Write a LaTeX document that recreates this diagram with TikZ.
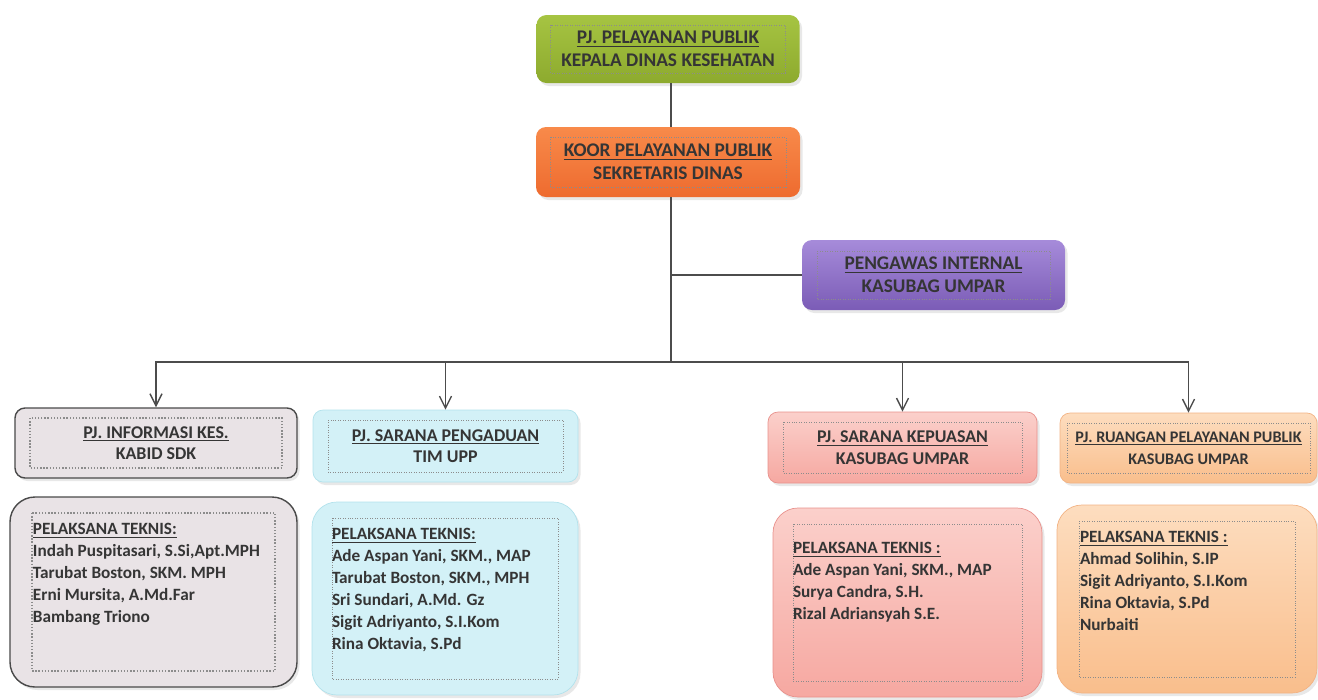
\documentclass[tikz,border=0pt]{standalone}
\usepackage{fontspec}
\setmainfont{Carlito}
\usetikzlibrary{arrows.meta,calc,positioning,shadows}

\definecolor{leaftop}{HTML}{A6C442}
\definecolor{leafbot}{HTML}{8DAA2E}
\definecolor{flametop}{HTML}{F88A4A}
\definecolor{flamebot}{HTML}{EE6B2F}
\definecolor{lilactop}{HTML}{A68BDA}
\definecolor{lilacbot}{HTML}{7B5CB6}
\definecolor{ashfill}{HTML}{E9E3E6}
\definecolor{ashline}{HTML}{4A4A4A}
\definecolor{skyfill}{HTML}{D3F1F7}
\definecolor{skyline}{HTML}{B2E2EC}
\definecolor{rosetop}{HTML}{FBD0CB}
\definecolor{rosebot}{HTML}{F6A8A1}
\definecolor{roseline}{HTML}{E8918C}
\definecolor{peachtop}{HTML}{FDDDBF}
\definecolor{peachbot}{HTML}{F9BE8C}
\definecolor{peachline}{HTML}{F2B384}
\definecolor{ink}{HTML}{353535}

\newcommand{\crewlist}[3]{\parbox[c][#2][t]{#1}{\raggedright #3}}

\tikzset{
  office/.style = {rounded corners=2mm, inner sep=0pt, align=center, text=ink,
                   font=\bfseries\fontsize{10.2}{12.2}\selectfont,
                   drop shadow={opacity=0.18, shadow xshift=0.5mm, shadow yshift=-0.6mm}},
  crew/.style   = {office, rounded corners=5mm, align=left,
                   font=\bfseries\fontsize{9.8}{12.5}\selectfont},
  dotbox/.style 2 args = {path picture={\draw[densely dotted, black!45, sharp corners]
                   ([shift={(#1,-#2)}]path picture bounding box.north west) rectangle
                   ([shift={(-#1,#2)}]path picture bounding box.south east);}},
  wire/.style   = {thick, black!70},
  link/.style   = {wire, -{Straight Barb[length=2.4mm, width=2.4mm]}},
}

\begin{document}
\begin{tikzpicture}[x=0.2mm,y=-0.2mm]
  \useasboundingbox (0,0) rectangle (1318,699);
  % top of the chart
  \node[office, dotbox={2.8mm}{2mm}, top color=leaftop, bottom color=leafbot,
        font=\bfseries\fontsize{11}{13}\selectfont,
        minimum width=52.6mm, minimum height=13.6mm] (pj) at (668,49)
        {\underline{PJ. PELAYANAN PUBLIK}\\KEPALA DINAS KESEHATAN};
  \node[office, dotbox={2.8mm}{2mm}, top color=flametop, bottom color=flamebot,
        font=\bfseries\fontsize{11}{13}\selectfont,
        minimum width=52.8mm, minimum height=14mm] (koor) at (668,162)
        {\underline{KOOR PELAYANAN PUBLIK}\\SEKRETARIS DINAS};
  \node[office, dotbox={3mm}{2.2mm}, top color=lilactop, bottom color=lilacbot,
        font=\bfseries\fontsize{11}{13}\selectfont,
        minimum width=52.6mm, minimum height=14mm] (awas) at (933.5,275)
        {\underline{PENGAWAS INTERNAL}\\KASUBAG UMPAR};
  \coordinate (spine) at (671,362);
  %
  % the four sections
  \node[office, dotbox={3mm}{2mm}, fill=ashfill, draw=ashline, thick,
        minimum width=56.4mm, minimum height=14mm] (info) at (156,443)
        {\underline{PJ. INFORMASI KES.}\\KABID SDK};
  \node[office, dotbox={3mm}{2mm}, fill=skyfill, draw=skyline,
        minimum width=53mm, minimum height=14.4mm] (aduan) at (445.5,446)
        {\underline{PJ. SARANA PENGADUAN}\\TIM UPP};
  \node[office, dotbox={3mm}{2mm}, top color=rosetop, bottom color=rosebot, draw=roseline,
        minimum width=53.8mm, minimum height=14.2mm] (puas) at (902.5,447.5)
        {\underline{PJ. SARANA KEPUASAN}\\KASUBAG UMPAR};
  \node[office, dotbox={1.4mm}{2mm}, top color=peachtop, bottom color=peachbot, draw=peachline,
        font=\bfseries\fontsize{9.2}{12.5}\selectfont,
        minimum width=51.4mm, minimum height=14mm] (ruang) at (1188.5,448)
        {\underline{PJ. RUANGAN PELAYANAN PUBLIK}\\KASUBAG UMPAR};
  %
  \node[crew, dotbox={4.4mm}{3.2mm}, fill=ashfill, draw=ashline, thick,
        minimum width=57.4mm, minimum height=38mm] (infox) at (153.5,592)
        {\crewlist{48.2mm}{27.6mm}{\underline{PELAKSANA TEKNIS:}\\
          Indah Puspitasari, S.Si,Apt.MPH\\ Tarubat Boston, SKM. MPH\\
          Erni Mursita, A.Md.Far\\ Bambang Triono}};
  \node[crew, dotbox={4mm}{3.2mm}, fill=skyfill, draw=skyline,
        minimum width=53.2mm, minimum height=38.6mm] (aduanx) at (445,598.5)
        {\crewlist{45.2mm}{28.2mm}{\underline{PELAKSANA TEKNIS:}\\
          Ade Aspan Yani, SKM., MAP\\ Tarubat Boston, SKM., MPH\\
          Sri Sundari, A.Md. Gz\\ Sigit Adriyanto, S.I.Kom\\ Rina Oktavia, S.Pd}};
  \node[crew, dotbox={4mm}{3.2mm}, top color=rosetop, bottom color=rosebot, draw=roseline,
        minimum width=53.8mm, minimum height=37.8mm] (puasx) at (907.5,602.5)
        {\crewlist{45.8mm}{24.2mm}{\underline{PELAKSANA TEKNIS :}\\
          Ade Aspan Yani, SKM., MAP\\ Surya Candra, S.H.\\ Rizal Adriansyah S.E.}};
  \node[crew, dotbox={4.4mm}{3.2mm}, top color=peachtop, bottom color=peachbot, draw=peachline,
        minimum width=52mm, minimum height=37.6mm] (ruangx) at (1187,599)
        {\crewlist{42.8mm}{27.2mm}{\underline{PELAKSANA TEKNIS :}\\
          Ahmad Solihin, S.IP\\ Sigit Adriyanto, S.I.Kom\\ Rina Oktavia, S.Pd\\ Nurbaiti}};
  %
  % connectors
  \draw[wire] (pj.south -| spine) -- (koor.north -| spine);
  \draw[wire] (koor.south -| spine) -- (spine);
  \draw[wire] (spine |- awas.west) -- (awas.west);
  \draw[link] (spine) -| (info);
  \draw[link] (spine) -| (aduan);
  \draw[link] (spine) -| (puas);
  \draw[link] (spine) -| (ruang);
\end{tikzpicture}
\end{document}
